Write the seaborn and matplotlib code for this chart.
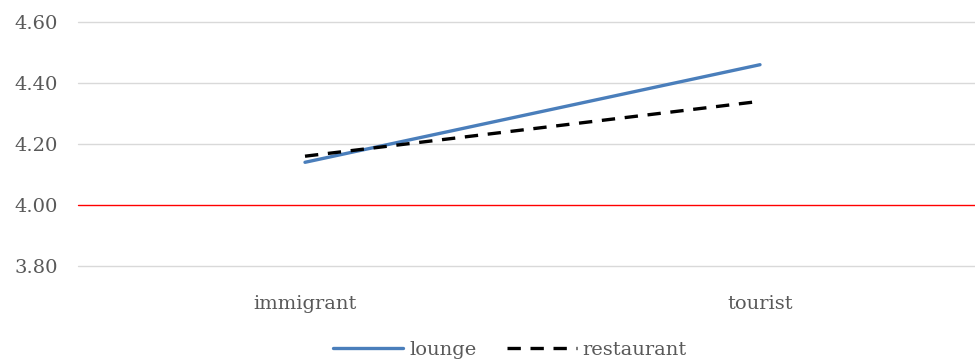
import matplotlib
matplotlib.use("Agg")
import matplotlib.pyplot as plt
import seaborn as sns
import pandas as pd

categories = ["immigrant", "tourist"]
lounge = [4.14, 4.46]
restaurant = [4.16, 4.34]
y_ticks = [3.80, 4.00, 4.20, 4.40, 4.60]

sns.set_style("white")
plt.rcParams["font.family"] = ["DejaVu Serif", "Liberation Serif"]

df = pd.DataFrame({
    "group": categories * 2,
    "pos": [0, 1] * 2,
    "score": lounge + restaurant,
    "venue": ["lounge"] * 2 + ["restaurant"] * 2,
})

fig = plt.figure(figsize=(9.75, 3.64), dpi=100)
ax = fig.add_axes([77.5 / 975, 98 / 364, 910 / 975, 244 / 364])

for y in y_ticks:
    color = "#ff0000" if y == 4.00 else "#d9d9d9"
    ax.axhline(y, color=color, lw=1.0, zorder=1, clip_on=False)

sns.lineplot(data=df, x="pos", y="score", hue="venue", style="venue",
             palette={"lounge": "#4a7ebb", "restaurant": "#000000"},
             dashes={"lounge": "", "restaurant": (4.0, 2.9)},
             linewidth=2.4, ax=ax, zorder=3)

ax.set_xlim(-0.5, 1.5)
ax.set_ylim(3.80, 4.60)
ax.set_xticks([0, 1])
ax.set_xticklabels(categories)
ax.set_yticks(y_ticks)
ax.set_yticklabels([f"{v:.2f}" for v in y_ticks])
ax.set_xlabel("")
ax.set_ylabel("")
for s in ax.spines.values():
    s.set_visible(False)
ax.tick_params(axis="both", length=0, labelsize=14, colors="#595959")
ax.tick_params(axis="x", pad=21)
ax.tick_params(axis="y", pad=14)

handles, labels = ax.get_legend_handles_labels()
ax.legend(handles, labels, loc="center", bbox_to_anchor=(510 / 975, 14 / 364),
          bbox_transform=fig.transFigure, ncol=2, frameon=False, fontsize=14,
          labelcolor="#595959", handlelength=3.6, handletextpad=0.3,
          columnspacing=1.55)

fig.savefig("out.png", dpi=100)
